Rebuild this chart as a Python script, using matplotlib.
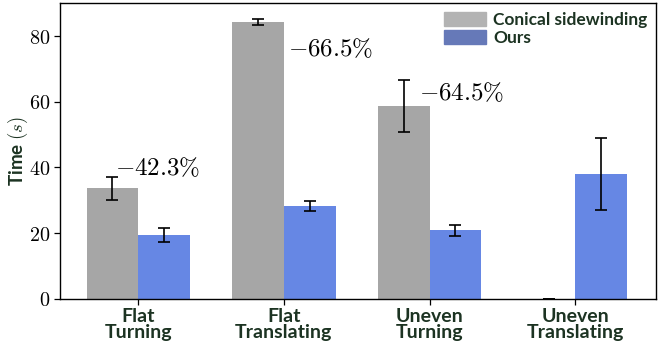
import matplotlib
matplotlib.use("Agg")
import matplotlib.pyplot as plt
import matplotlib.patches as mpatches
import numpy as np

plt.rcParams['mathtext.fontset'] = 'cm'

categories = ["Flat\nTurning", "Flat\nTranslating", "Uneven\nTurning", "Uneven\nTranslating"]
conical_mean = [33.6, 84.3, 58.7, 0.0]
conical_err = [3.4, 0.9, 7.9, 0.0]
ours_mean = [19.4, 28.2, 20.9, 38.0]
ours_err = [2.1, 1.5, 1.7, 11.0]
reductions = ["$-42.3\\%$", "$-66.5\\%$", "$-64.5\\%$"]
yticks = [0, 20, 40, 60, 80]

label_color = "#1c3322"
gray = "#a6a6a6"
blue = "#6687e4"
width = 0.355

fig = plt.figure(figsize=(6.68, 3.54), dpi=100)
ax = fig.add_axes([0.0898, 0.156, 0.892, 0.835])

x = np.arange(len(categories))
ax.bar(x - width / 2, conical_mean, width, color=gray, zorder=2)
ax.bar(x + width / 2, ours_mean, width, color=blue, zorder=2)
ax.errorbar(x - width / 2, conical_mean, yerr=conical_err, fmt='none',
            ecolor='black', elinewidth=1.2, capsize=4, capthick=1.2, zorder=3)
ax.errorbar(x + width / 2, ours_mean, yerr=ours_err, fmt='none',
            ecolor='black', elinewidth=1.2, capsize=4, capthick=1.2, zorder=3)

# reduction labels next to the baseline bars
ax.text(x[0] - width / 2 + 0.017, conical_mean[0] + conical_err[0] + 0.6, reductions[0],
        fontsize=18, ha='left', va='baseline')
ax.text(x[1] + 0.03, conical_mean[1] - 10.4, reductions[1],
        fontsize=18, ha='left', va='baseline')
ax.text(x[2] - width / 2 + 0.105, conical_mean[2] + 1.8, reductions[2],
        fontsize=18, ha='left', va='baseline')

ax.set_xlim(-0.537, 3.553)
ax.set_ylim(0, 90)
ax.set_yticks(yticks)
ax.set_yticklabels([f"${v}$" for v in yticks], fontsize=14.5)
ax.set_xticks(x)
ax.set_xticklabels(categories, fontsize=14, family='Lato', fontweight='bold',
                   color=label_color, linespacing=0.92)
ax.tick_params(axis='both', length=4, width=0.9, pad=3)

ax.set_ylabel("Time $(s)$", fontsize=13.5, family='Lato', fontweight='bold',
              color=label_color, labelpad=-1)

handles = [mpatches.Patch(color="#b3b3b3"), mpatches.Patch(color="#6679b8")]
leg = ax.legend(handles, ["Conical sidewinding", "Ours"], loc='upper right',
                frameon=False, prop={'family': 'Lato', 'weight': 'bold', 'size': 12.5},
                handlelength=2.4, handleheight=0.85, handletextpad=0.4,
                labelspacing=0.1, borderaxespad=0.1)
for t in leg.get_texts():
    t.set_color(label_color)

for s in ax.spines.values():
    s.set_linewidth(1.0)

fig.savefig("out.png", dpi=100)
